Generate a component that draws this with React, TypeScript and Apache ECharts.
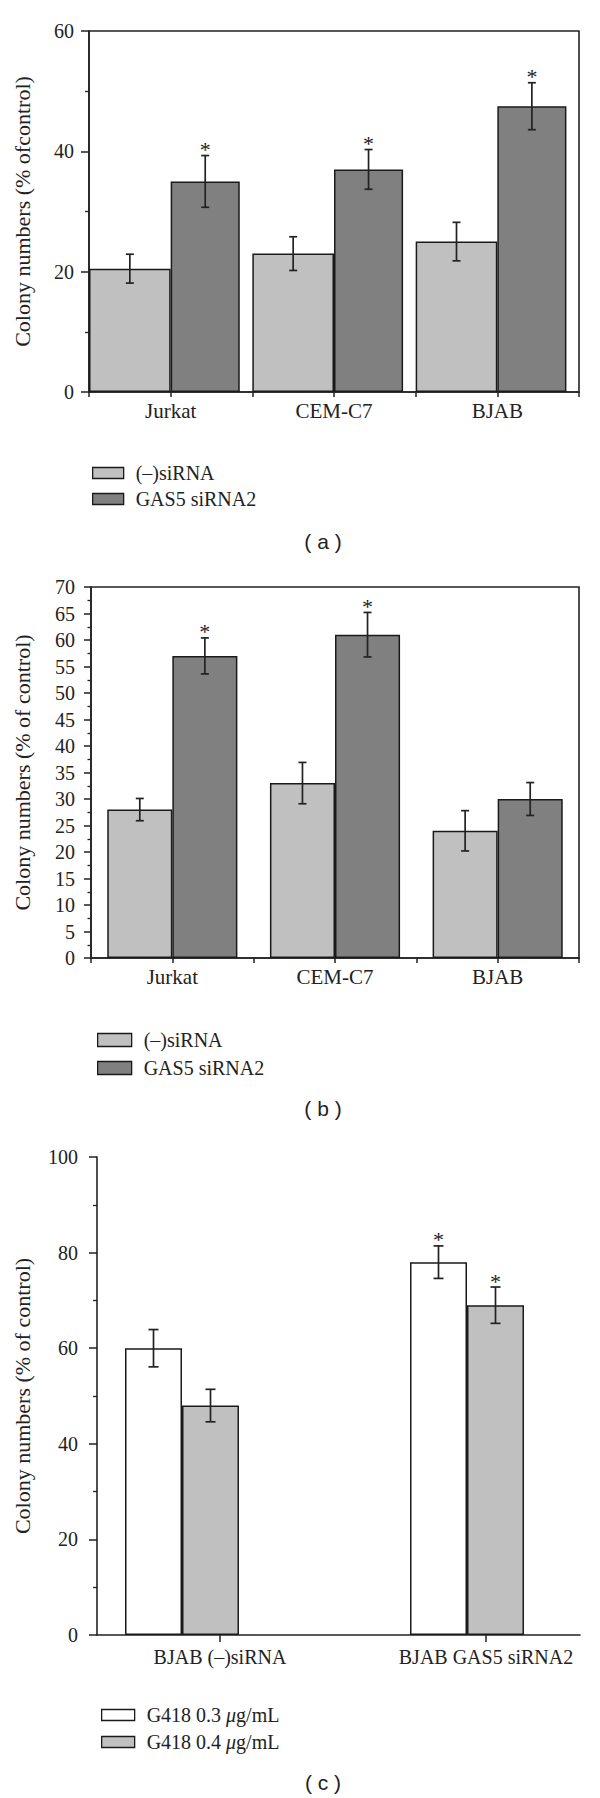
import React, { useEffect, useRef } from "react";
import * as echarts from "echarts";

// ---------- DATA ----------
const catsA = ["Jurkat", "CEM-C7", "BJAB"];
const negA = [20.5, 23.0, 25.0];
const errNegA = [2.4, 2.8, 3.2];
const gasA = [35.0, 37.0, 47.5];
const errGasA = [4.3, 3.3, 3.9];
const sigNegA = [0, 0, 0];
const sigGasA = [1, 1, 1];

const catsB = ["Jurkat", "CEM-C7", "BJAB"];
const negB = [28.0, 33.0, 24.0];
const errNegB = [2.1, 3.9, 3.8];
const gasB = [57.0, 61.0, 30.0];
const errGasB = [3.4, 4.2, 3.1];
const sigNegB = [0, 0, 0];
const sigGasB = [1, 1, 0];

const catsC = ["BJAB (–)siRNA", "BJAB GAS5 siRNA2"];
const g03 = [60.0, 78.0];
const errG03 = [3.9, 3.4];
const g04 = [48.0, 69.0];
const errG04 = [3.4, 3.8];
const sigG03 = [0, 1];
const sigG04 = [0, 1];

const seriesNamesAB = ["(–)siRNA", "GAS5 siRNA2"];
const seriesNamesC = ["G418 0.3 μg/mL", "G418 0.4 μg/mL"];

const yA = { min: 0, max: 60, interval: 20 };
const yB = { min: 0, max: 70, interval: 5 };
const yC = { min: 0, max: 100, interval: 20 };

const captions = ["( a )", "( b )", "( c )"];

// ---------- STYLE ----------
const SERIF = "'Liberation Serif', 'Times New Roman', serif";
const SANS = "'Liberation Sans', Arial, sans-serif";
const INK = "#222";
const LIGHT = "#c0c0c0";
const DARK = "#808080";
const BORDER = "#1a1a1a";

function errData(vals: number[], errs: number[], sig: number[]) {
  return vals.map((v, i) => [i, v - errs[i], v + errs[i], sig[i]]);
}

function errSeries(
  xi: number,
  yi: number,
  data: number[][],
  offset: (band: number) => number,
  capHalf: number
) {
  return {
    type: "custom",
    xAxisIndex: xi,
    yAxisIndex: yi,
    silent: true,
    clip: false,
    z: 5,
    encode: { x: 0, y: [1, 2] },
    data,
    renderItem: (params: any, api: any) => {
      const i = api.value(0);
      const lo = api.value(1);
      const hi = api.value(2);
      const s = api.value(3);
      const top = api.coord([i, hi]);
      const bot = api.coord([i, lo]);
      const band = api.size([1, 0])[0];
      const x = top[0] + offset(band);
      const ls = { stroke: INK, lineWidth: 1.7 };
      const children: any[] = [
        { type: "line", shape: { x1: x, y1: top[1], x2: x, y2: bot[1] }, style: ls },
        { type: "line", shape: { x1: x - capHalf, y1: top[1], x2: x + capHalf, y2: top[1] }, style: ls },
        { type: "line", shape: { x1: x - capHalf, y1: bot[1], x2: x + capHalf, y2: bot[1] }, style: ls },
      ];
      if (s) {
        children.push({
          type: "text",
          style: {
            text: "*",
            x: x,
            y: top[1] - 6,
            align: "center",
            verticalAlign: "middle",
            fontSize: 22,
            fontFamily: SERIF,
            fill: INK,
          },
        });
      }
      return { type: "group", children };
    },
  };
}

function barSeries(name: string, xi: number, yi: number, data: number[], color: string, width: any) {
  return {
    type: "bar",
    name,
    xAxisIndex: xi,
    yAxisIndex: yi,
    data,
    barWidth: width,
    barGap: "0%",
    itemStyle: { color, borderColor: BORDER, borderWidth: 1.5 },
  };
}

const axisLineStyle = { lineStyle: { color: INK, width: 1.6 } };

function valueY(gridIndex: number, cfg: any, name: string, nameGap: number, labelMargin: number) {
  return {
    type: "value",
    gridIndex,
    min: cfg.min,
    max: cfg.max,
    interval: cfg.interval,
    name,
    nameLocation: "middle",
    nameGap,
    nameTextStyle: { fontFamily: SERIF, fontSize: 22, color: INK },
    axisLine: { show: true, ...axisLineStyle },
    axisTick: { show: true, inside: false, length: 8, lineStyle: { color: INK, width: 1.5 } },
    minorTick: { show: true, splitNumber: 2, length: 4, lineStyle: { color: INK, width: 1.3 } },
    splitLine: { show: false },
    minorSplitLine: { show: false },
    axisLabel: { fontFamily: SERIF, fontSize: 20, color: INK, margin: labelMargin },
  };
}

function catX(gridIndex: number, cats: string[], opts: any) {
  return {
    type: "category",
    gridIndex,
    data: cats,
    position: "bottom",
    axisLine: { show: true, onZero: false, ...axisLineStyle },
    axisTick: { show: true, length: 5, lineStyle: { color: INK, width: 1.5 } },
    axisLabel: { fontFamily: SERIF, fontSize: 21, color: INK, margin: 8 },
    splitLine: { show: false },
    ...opts,
  };
}

function legendCfg(data: string[], left: number, top: number, w: number, h: number, gap: number) {
  return {
    data,
    orient: "vertical",
    left,
    top,
    itemWidth: w,
    itemHeight: h,
    itemGap: gap,
    icon: "rect",
    selectedMode: false,
    itemStyle: { borderColor: BORDER, borderWidth: 1.3 },
    textStyle: {
      fontFamily: SERIF,
      fontSize: 20,
      color: INK,
      lineHeight: 18,
      padding: [0, 0, 0, 7],
      rich: { i: { fontFamily: SERIF, fontStyle: "italic", fontSize: 20, color: INK } },
    },
    formatter: (n: string) => n.replace("μ", "{i|μ}"),
  };
}

export default function App() {
  const ref = useRef<HTMLDivElement>(null);
  useEffect(() => {
    if (!ref.current) return;
    const chart = echarts.init(ref.current, null, { renderer: "svg" });
    const option: any = {
      animation: false,
      backgroundColor: "#ffffff",
      grid: [
        { left: 89, top: 31, width: 490, height: 361, show: true, borderColor: INK, borderWidth: 1.6, backgroundColor: "transparent", containLabel: false },
        { left: 91, top: 587, width: 488, height: 371, show: true, borderColor: INK, borderWidth: 1.6, backgroundColor: "transparent", containLabel: false },
        { left: 97, top: 1157, width: 483, height: 478, containLabel: false },
        { left: 220, top: 1157, width: 266, height: 478, containLabel: false },
        { left: 182, top: 1157, width: 285, height: 478, containLabel: false },
      ],
      xAxis: [
        catX(0, catsA, { axisTick: { show: true, alignWithLabel: true, length: 5, lineStyle: { color: INK, width: 1.5 } } }),
        catX(0, catsA, { axisLabel: { show: false }, axisLine: { show: false } }),
        catX(1, catsB, { axisTick: { show: true, alignWithLabel: true, length: 5, lineStyle: { color: INK, width: 1.5 } } }),
        catX(1, catsB, { axisLabel: { show: false }, axisLine: { show: false } }),
        catX(2, catsC, { axisTick: { show: false }, axisLabel: { show: false } }),
        catX(3, catsC, {
          boundaryGap: false,
          axisLine: { show: false },
          axisTick: { show: true, length: 7, lineStyle: { color: INK, width: 1.5 } },
          axisLabel: { fontFamily: SERIF, fontSize: 20, color: INK, margin: 12 },
        }),
        catX(4, catsC, { boundaryGap: false, show: false }),
      ],
      yAxis: [
        valueY(0, yA, "Colony numbers (% ofcontrol)", 56, 15),
        { ...valueY(1, yB, "Colony numbers (% of control)", 58, 16), axisTick: { show: true, length: 7, lineStyle: { color: INK, width: 1.5 } }, minorTick: { show: true, splitNumber: 2, length: 3.5, lineStyle: { color: INK, width: 1.3 } } },
        valueY(2, yC, "Colony numbers (% of control)", 64, 19),
        { type: "value", gridIndex: 3, min: yC.min, max: yC.max, show: false },
        { type: "value", gridIndex: 4, min: yC.min, max: yC.max, show: false },
      ],
      legend: [
        legendCfg(seriesNamesAB, 87, 458, 31, 11, 6),
        legendCfg(seriesNamesAB, 92, 1025, 34, 13, 8),
        legendCfg(seriesNamesC, 96, 1700, 33, 11, 7),
      ],
      series: [
        // chart (a)
        barSeries(seriesNamesAB[0], 0, 0, negA, LIGHT, "50%"),
        barSeries(seriesNamesAB[1], 0, 0, gasA, DARK, "42.3%"),
        { type: "bar", name: "spacerA", xAxisIndex: 0, yAxisIndex: 0, data: negA.map(() => 0), barWidth: "7.7%", barGap: "0%", silent: true, itemStyle: { color: "rgba(0,0,0,0)", borderWidth: 0 } },
        errSeries(0, 0, errData(negA, errNegA, sigNegA), (b) => -0.25 * b, 4),
        errSeries(0, 0, errData(gasA, errGasA, sigGasA), (b) => 0.2115 * b, 4),
        // chart (b)
        barSeries(seriesNamesAB[0], 2, 1, negB, LIGHT, "40%"),
        barSeries(seriesNamesAB[1], 2, 1, gasB, DARK, "40%"),
        errSeries(2, 1, errData(negB, errNegB, sigNegB), (b) => -0.2 * b, 4),
        errSeries(2, 1, errData(gasB, errGasB, sigGasB), (b) => 0.2 * b, 4),
        // chart (c)
        barSeries(seriesNamesC[0], 6, 4, g03, "#ffffff", 57),
        barSeries(seriesNamesC[1], 6, 4, g04, LIGHT, 57),
        errSeries(6, 4, errData(g03, errG03, sigG03), () => -28.5, 5),
        errSeries(6, 4, errData(g04, errG04, sigG04), () => 28.5, 5),
      ],
      graphic: [
        { type: "text", x: 323, y: 541, style: { text: captions[0], align: "center", verticalAlign: "middle", fontFamily: SANS, fontSize: 21, fill: INK } },
        { type: "text", x: 323, y: 1108, style: { text: captions[1], align: "center", verticalAlign: "middle", fontFamily: SANS, fontSize: 21, fill: INK } },
        { type: "text", x: 323, y: 1782, style: { text: captions[2], align: "center", verticalAlign: "middle", fontFamily: SANS, fontSize: 21, fill: INK } },
      ],
    };
    chart.setOption(option);
    return () => chart.dispose();
  }, []);
  return (
    <div
      ref={ref}
      style={{ position: "absolute", left: 0, top: 0, width: 600, height: 1798, background: "#fff" }}
    />
  );
}
